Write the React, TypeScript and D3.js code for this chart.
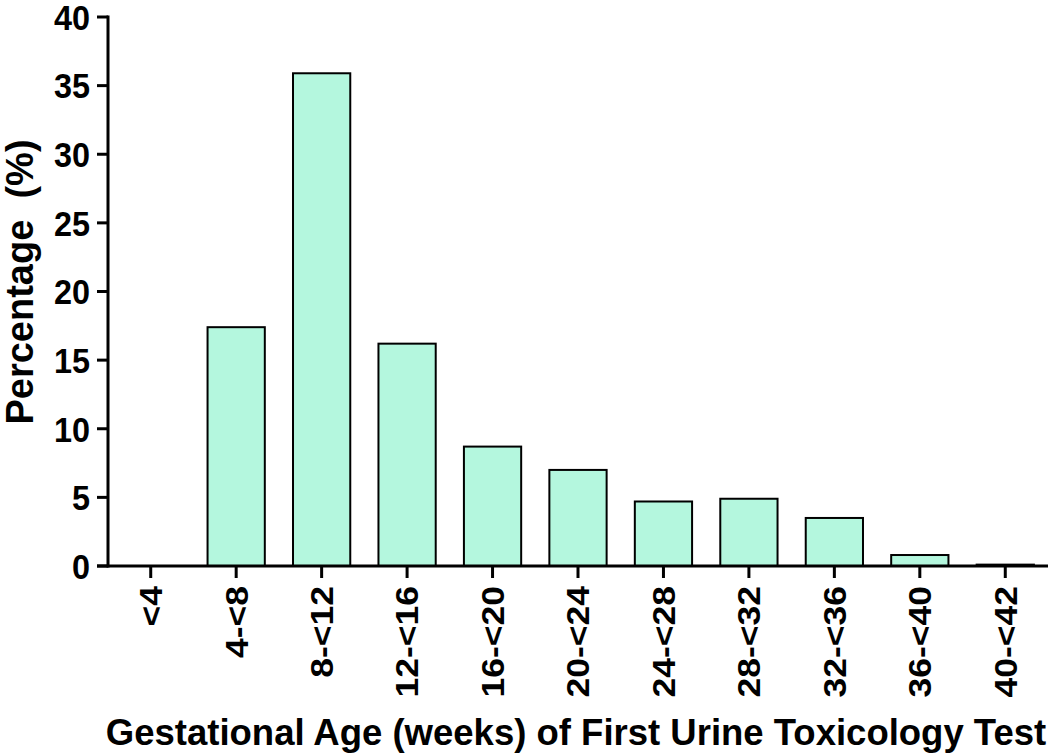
import React from "react";
import * as d3 from "d3";

const categories = ["<4", "4-<8", "8-<12", "12-<16", "16-<20", "20-<24", "24-<28", "28-<32", "32-<36", "36-<40", "40-<42"];
const percentages = [0, 17.4, 35.9, 16.2, 8.7, 7.0, 4.7, 4.9, 3.5, 0.8, 0.1];
const yTicks = [0, 5, 10, 15, 20, 25, 30, 35, 40];

const W = 1050;
const H = 755;
const left = 108;
const right = 1048;
const top = 17;
const bottom = 566;
const FONT = "'Liberation Sans', Arial, Helvetica, sans-serif";

export default function App() {
  const x = d3.scaleBand<string>().domain(categories).range([left, right]).paddingInner(0.33).paddingOuter(0.165);
  const y = d3.scaleLinear().domain([0, 40]).range([bottom, top]);

  return (
    <svg width={W} height={H} style={{ position: "absolute", left: 0, top: 0, background: "#fff" }} fontFamily={FONT} fontWeight="bold">
      {/* bars */}
      {categories.map((c, i) =>
        percentages[i] > 0 ? (
          <rect
            key={c}
            x={x(c)!}
            y={y(percentages[i])}
            width={x.bandwidth()}
            height={Math.max(bottom - y(percentages[i]), 1)}
            fill="#b4f7de"
            stroke="#000"
            strokeWidth={2}
          />
        ) : null
      )}
      {/* y axis */}
      <line x1={left} x2={left} y1={top - 1.5} y2={bottom + 1.5} stroke="#000" strokeWidth={3} />
      {yTicks.map((t) => (
        <g key={t}>
          <line x1={left - 11} x2={left} y1={y(t)} y2={y(t)} stroke="#000" strokeWidth={3} />
          <text
            transform={`translate(${left - 18},${y(t) + 12.8}) scale(0.9,1)`}
            textAnchor="end"
            fontSize={36}
            fill="#000"
          >
            {t}
          </text>
        </g>
      ))}
      {/* x axis */}
      <line x1={left - 11} x2={right} y1={bottom} y2={bottom} stroke="#000" strokeWidth={3} />
      {categories.map((c) => {
        const cx = x(c)! + x.bandwidth() / 2;
        return (
          <g key={c}>
            <line x1={cx} x2={cx} y1={bottom} y2={bottom + 12} stroke="#000" strokeWidth={3} />
            <text
              transform={`translate(${cx},${bottom + 20}) rotate(-90) scale(1,0.9)`}
              textAnchor="end"
              dominantBaseline="central"
              fontSize={35.5}
              fill="#000"
            >
              {c}
            </text>
          </g>
        );
      })}
      {/* axis titles */}
      <text x={576} y={745} textAnchor="middle" fontSize={36.5} fill="#000">
        Gestational Age (weeks) of First Urine Toxicology Test
      </text>
      <text transform={`translate(33,282) rotate(-90)`} textAnchor="middle" fontSize={38} fill="#000" style={{ whiteSpace: "pre" }}>
        {"Percentage  (%)"}
      </text>
    </svg>
  );
}
